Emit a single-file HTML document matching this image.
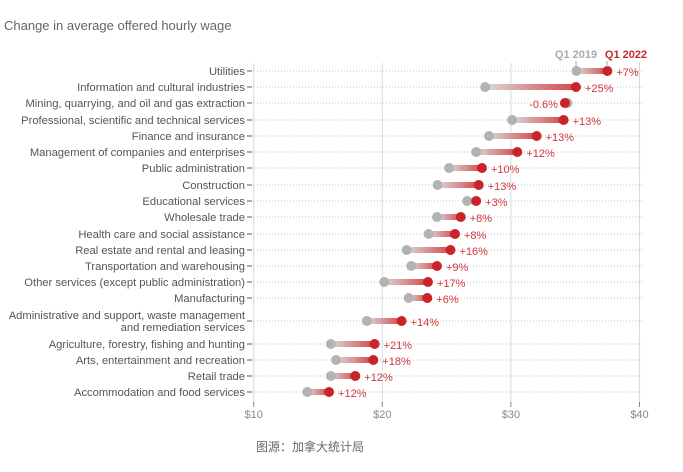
<!DOCTYPE html>
<html><head><meta charset="utf-8"><style>
body{margin:0;background:#fff;width:683px;height:467px;overflow:hidden;font-family:"Liberation Sans","Noto Sans CJK SC",sans-serif}
</style></head><body>
<svg id="chart" width="683" height="467" xmlns="http://www.w3.org/2000/svg" font-family="Liberation Sans, Noto Sans CJK SC, sans-serif">
<defs><linearGradient id="g" x1="0" x2="1" y1="0" y2="0"><stop offset="0" stop-color="#d9d9d9"/><stop offset="1" stop-color="#d6464a"/></linearGradient></defs>
<text x="4" y="30" font-size="13" fill="#666">Change in average offered hourly wage</text>
<text x="576" y="58" font-size="11" font-weight="bold" fill="#aaa" text-anchor="middle">Q1 2019</text>
<text x="626" y="58" font-size="11" font-weight="bold" fill="#c62a2f" text-anchor="middle">Q1 2022</text>
<text x="310" y="451" font-size="12" fill="#666" text-anchor="middle">图源：加拿大统计局</text>
<g id="plot"></g>
</svg>
<script>
const categories=["Utilities","Information and cultural industries","Mining, quarrying, and oil and gas extraction","Professional, scientific and technical services","Finance and insurance","Management of companies and enterprises","Public administration","Construction","Educational services","Wholesale trade","Health care and social assistance","Real estate and rental and leasing","Transportation and warehousing","Other services (except public administration)","Manufacturing","Administrative and support, waste management|and remediation services","Agriculture, forestry, fishing and hunting","Arts, entertainment and recreation","Retail trade","Accommodation and food services"];
const wage2019=[35.1,28.0,34.4,30.1,28.3,27.3,25.2,24.3,26.6,24.25,23.6,21.9,22.25,20.15,22.05,18.8,16.0,16.4,16.0,14.17];
const wage2022=[37.5,35.06,34.2,34.1,32.0,30.5,27.75,27.5,27.3,26.1,25.65,25.3,24.25,23.55,23.5,21.5,19.4,19.3,17.9,15.86];
const changeLabels=["+7%","+25%","-0.6%","+13%","+13%","+12%","+10%","+13%","+3%","+8%","+8%","+16%","+9%","+17%","+6%","+14%","+21%","+18%","+12%","+12%"];
const rowY=[71,87,103,120,136,152,168,185,201,217,234,250,266,282,298,321,344,360,376,392];
const xTicks=[10,20,30,40];
const NS="http://www.w3.org/2000/svg";
const X0=253.7,PX=12.86;
const x=v=>X0+(v-10)*PX;
const g=document.getElementById('plot');
function mk(t,a){const e=document.createElementNS(NS,t);for(const k in a)e.setAttribute(k,a[k]);g.appendChild(e);return e;}
xTicks.forEach(t=>{
  const l=mk('line',{x1:x(t),x2:x(t),y1:63,y2:402,stroke:'#d3dbe0','stroke-width':1});
  
  
  mk('line',{x1:x(t),x2:x(t),y1:402,y2:407,stroke:'#888'});
  const tx=mk('text',{x:x(t),y:418,'font-size':11,fill:'#888','text-anchor':'middle'});
  tx.textContent='$'+t;
  
  
});
categories.forEach((c,i)=>{
  const y=rowY[i];
  mk('line',{x1:254,x2:643,y1:y,y2:y,stroke:'#bcc6cc','stroke-dasharray':'1,2'});
  mk('line',{x1:247,x2:252,y1:y,y2:y,stroke:'#555'});
  const parts=c.split('|');
  parts.forEach((p,j)=>{
    const t=mk('text',{x:245,y:y+4+(j-(parts.length-1)/2)*12,'font-size':11.2,fill:'#555','text-anchor':'end'});
    t.textContent=p;
    
    
  });
  const a=x(wage2019[i]),b=x(wage2022[i]);
  const bar=mk('rect',{x:Math.min(a,b),y:y-3,width:Math.abs(b-a),height:6,fill:b>=a?'url(#g)':'#ddd'});
  
  
  const p1=mk('circle',{cx:a,cy:y,r:5,fill:'#b3b3b3'});
  
  
  const p2=mk('circle',{cx:b,cy:y,r:5,fill:'#c8242a'});
  
  
  const neg=changeLabels[i].startsWith('-');
  const lt=mk('text',{x:neg?Math.min(a,b)-7:Math.max(a,b)+9,y:y+5,'font-size':11,fill:'#d1383d','text-anchor':neg?'end':'start'});
  lt.textContent=changeLabels[i];
  
  
});
mk('line',{x1:576,x2:576,y1:61,y2:67,stroke:'#aaa'});
mk('line',{x1:607,x2:607,y1:61,y2:67,stroke:'#aaa'});
</script>
</body></html>
